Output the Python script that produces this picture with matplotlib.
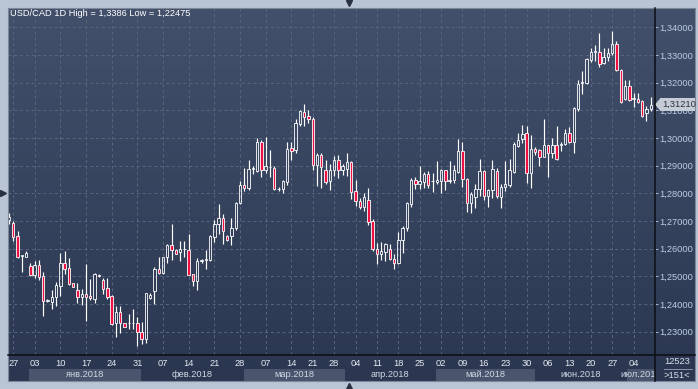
import numpy as np
import matplotlib
matplotlib.use('Agg')
import matplotlib.pyplot as plt
from matplotlib.colors import LinearSegmentedColormap
from matplotlib.lines import Line2D
from matplotlib.patches import Rectangle, Polygon

plt.rcParams['font.family'] = ['Liberation Sans', 'DejaVu Sans']

# daily USD/CAD candles
opens = [1.2705, 1.2694, 1.2646, 1.2574, 1.2571, 1.2537, 1.2504, 1.2540, 1.2501, 1.2410,
         1.2408, 1.2424, 1.2465, 1.2547, 1.2530, 1.2475, 1.2451, 1.2424, 1.2436, 1.2430,
         1.2419, 1.2505, 1.2487, 1.2458, 1.2430, 1.2330, 1.2370, 1.2330, 1.2333, 1.2331,
         1.2330, 1.2300, 1.2272, 1.2423, 1.2448, 1.2527, 1.2513, 1.2570, 1.2614, 1.2596,
         1.2588, 1.2600, 1.2596, 1.2507, 1.2483, 1.2556, 1.2558, 1.2558, 1.2642, 1.2690,
         1.2712, 1.2645, 1.2645, 1.2675, 1.2765, 1.2831, 1.2820, 1.2889, 1.2880, 1.2986,
         1.2883, 1.2896, 1.2893, 1.2816, 1.2816, 1.2841, 1.2965, 1.2955, 1.3052, 1.3094,
         1.3078, 1.3070, 1.2901, 1.2940, 1.2883, 1.2845, 1.2883, 1.2922, 1.2883, 1.2889,
         1.2913, 1.2807, 1.2771, 1.2751, 1.2775, 1.2699, 1.2600, 1.2580, 1.2588, 1.2600,
         1.2564, 1.2548, 1.2630, 1.2675, 1.2763, 1.2849, 1.2835, 1.2841, 1.2871, 1.2844,
         1.2841, 1.2845, 1.2883, 1.2846, 1.2849, 1.2877, 1.2952, 1.2853, 1.2766, 1.2787,
         1.2814, 1.2880, 1.2789, 1.2812, 1.2881, 1.2788, 1.2822, 1.2830, 1.2878, 1.2971,
         1.2995, 1.3017, 1.2875, 1.2959, 1.2957, 1.2933, 1.2974, 1.2945, 1.2974, 1.2976,
         1.2978, 1.3017, 1.2987, 1.3104, 1.3200, 1.3200, 1.3282, 1.3310, 1.3312, 1.3270,
         1.3294, 1.3306, 1.3340, 1.3246, 1.3140, 1.3188, 1.3141, 1.3142, 1.3134, 1.3092,
         1.3104]
highs = [1.2730, 1.2699, 1.2664, 1.2578, 1.2592, 1.2547, 1.2555, 1.2559, 1.2516, 1.2417,
         1.2451, 1.2481, 1.2586, 1.2593, 1.2565, 1.2477, 1.2477, 1.2453, 1.2543, 1.2490,
         1.2513, 1.2507, 1.2495, 1.2494, 1.2432, 1.2393, 1.2393, 1.2333, 1.2364, 1.2381,
         1.2352, 1.2336, 1.2441, 1.2441, 1.2533, 1.2569, 1.2571, 1.2616, 1.2690, 1.2600,
         1.2627, 1.2627, 1.2652, 1.2510, 1.2567, 1.2561, 1.2594, 1.2648, 1.2702, 1.2760,
         1.2727, 1.2648, 1.2712, 1.2769, 1.2845, 1.2893, 1.2919, 1.2898, 1.3001, 1.2994,
         1.3004, 1.2958, 1.2898, 1.2823, 1.2849, 1.2986, 1.2986, 1.3070, 1.3102, 1.3124,
         1.3100, 1.3076, 1.2946, 1.2946, 1.2922, 1.2905, 1.2934, 1.2940, 1.2905, 1.2946,
         1.2917, 1.2847, 1.2784, 1.2801, 1.2820, 1.2708, 1.2620, 1.2624, 1.2620, 1.2616,
         1.2580, 1.2660, 1.2681, 1.2769, 1.2857, 1.2859, 1.2898, 1.2877, 1.2879, 1.2874,
         1.2917, 1.2889, 1.2886, 1.2916, 1.2901, 1.2998, 1.2986, 1.2857, 1.2805, 1.2833,
         1.2925, 1.2883, 1.2817, 1.2920, 1.2890, 1.2833, 1.2918, 1.2923, 1.2987, 1.3017,
         1.3047, 1.3043, 1.3011, 1.2966, 1.2960, 1.3069, 1.2975, 1.2999, 1.3043, 1.2987,
         1.3031, 1.3039, 1.3111, 1.3210, 1.3242, 1.3290, 1.3324, 1.3337, 1.3380, 1.3327,
         1.3324, 1.3386, 1.3352, 1.3248, 1.3210, 1.3210, 1.3164, 1.3161, 1.3137, 1.3116,
         1.3147]
lows = [1.2690, 1.2629, 1.2567, 1.2517, 1.2571, 1.2501, 1.2495, 1.2487, 1.2358, 1.2409,
        1.2381, 1.2393, 1.2429, 1.2508, 1.2469, 1.2460, 1.2402, 1.2396, 1.2340, 1.2414,
        1.2402, 1.2499, 1.2436, 1.2419, 1.2324, 1.2282, 1.2296, 1.2316, 1.2310, 1.2310,
        1.22475, 1.2256, 1.2260, 1.2418, 1.2399, 1.2508, 1.2508, 1.2547, 1.2558, 1.2580,
        1.2555, 1.2570, 1.2504, 1.2465, 1.2449, 1.2549, 1.2528, 1.2554, 1.2624, 1.2654,
        1.2618, 1.2628, 1.2614, 1.2669, 1.2763, 1.2808, 1.2811, 1.2869, 1.2877, 1.2859,
        1.2873, 1.2859, 1.2811, 1.2808, 1.2801, 1.2829, 1.2919, 1.2946, 1.3042, 1.3042,
        1.3054, 1.2886, 1.2825, 1.2820, 1.2833, 1.2811, 1.2861, 1.2857, 1.2865, 1.2861,
        1.2781, 1.2753, 1.2742, 1.2736, 1.2684, 1.2592, 1.2543, 1.2558, 1.2555, 1.2558,
        1.2528, 1.2546, 1.2584, 1.2664, 1.2751, 1.2817, 1.2817, 1.2820, 1.2820, 1.2805,
        1.2835, 1.2801, 1.2813, 1.2837, 1.2837, 1.2874, 1.2823, 1.2733, 1.2729, 1.2748,
        1.2789, 1.2775, 1.2750, 1.2782, 1.2782, 1.2746, 1.2810, 1.2822, 1.2875, 1.2969,
        1.2981, 1.2836, 1.2818, 1.2939, 1.2900, 1.2930, 1.2858, 1.2927, 1.2920, 1.2953,
        1.2975, 1.2983, 1.2947, 1.3099, 1.3159, 1.3195, 1.3276, 1.3280, 1.3258, 1.3267,
        1.3278, 1.3300, 1.3243, 1.3128, 1.3137, 1.3135, 1.3111, 1.3125, 1.3075, 1.3063,
        1.3099]
closes = [1.2715, 1.2643, 1.2571, 1.2576, 1.2584, 1.2505, 1.2540, 1.2496, 1.2412, 1.2414,
          1.2424, 1.2469, 1.2547, 1.2528, 1.2472, 1.2463, 1.2424, 1.2436, 1.2427, 1.2420,
          1.2510, 1.2500, 1.2453, 1.2427, 1.2328, 1.2370, 1.2330, 1.2318, 1.2331, 1.2333,
          1.2300, 1.2272, 1.2441, 1.2433, 1.2527, 1.2511, 1.2569, 1.2612, 1.2596, 1.2582,
          1.2600, 1.2598, 1.2506, 1.2483, 1.2555, 1.2558, 1.2562, 1.2645, 1.2690, 1.2712,
          1.2663, 1.2633, 1.2676, 1.2765, 1.2831, 1.2820, 1.2889, 1.2891, 1.2986, 1.2883,
          1.2898, 1.2895, 1.2814, 1.2815, 1.2843, 1.2961, 1.2953, 1.3054, 1.3098, 1.3076,
          1.3067, 1.2901, 1.2940, 1.2895, 1.2841, 1.2886, 1.2922, 1.2883, 1.2898, 1.2913,
          1.2805, 1.2771, 1.2751, 1.2787, 1.2696, 1.2600, 1.2580, 1.2590, 1.2616, 1.2564,
          1.2548, 1.2630, 1.2675, 1.2766, 1.2849, 1.2835, 1.2843, 1.2871, 1.2829, 1.2846,
          1.2847, 1.2883, 1.2845, 1.2847, 1.2883, 1.2952, 1.2853, 1.2766, 1.2796, 1.2814,
          1.2880, 1.2789, 1.2811, 1.2887, 1.2790, 1.2824, 1.2834, 1.2884, 1.2978, 1.2993,
          1.3014, 1.2872, 1.2959, 1.2951, 1.2933, 1.2974, 1.2945, 1.2974, 1.2923, 1.2978,
          1.3017, 1.2987, 1.3107, 1.3195, 1.3204, 1.3284, 1.3310, 1.3313, 1.3267, 1.3294,
          1.3306, 1.3340, 1.3246, 1.3131, 1.3188, 1.3137, 1.3143, 1.3131, 1.3080, 1.3104,
          1.3121]

day_ticks = [1, 6, 12, 18, 24, 30, 36, 42, 48, 54, 60, 66, 71, 76, 81, 86, 91, 96,
             101, 106, 111, 116, 121, 126, 131, 136, 141, 146]
day_labels = ['27', '03', '10', '17', '24', '31', '07', '14', '21', '28', '07', '14', '21', '28',
              '04', '11', '18', '25', '02', '09', '16', '23', '30', '06', '13', '20', '27', '04']
month_starts = [4.6, 30.8, 54.9, 78.5, 99.8, 122.9, 144.4]
month_labels = ['янв.2018', 'фев.2018', 'мар.2018', 'апр.2018', 'май.2018', 'июн.2018', 'июл.2018']
price_levels = [1.23, 1.24, 1.25, 1.26, 1.27, 1.28, 1.29, 1.30, 1.31, 1.32, 1.33, 1.34]
last_price = 1.3121
title = 'USD/CAD 1D High = 1,3386 Low = 1,22475'

W, H = 698, 389


def box(x0, y0, x1, y1):
    # pixel box (top-left origin) -> figure fraction rect
    return [x0 / W, 1 - y1 / H, (x1 - x0) / W, (y1 - y0) / H]


fig = plt.figure(figsize=(W / 100, H / 100), dpi=100, facecolor='#b9c5d5')

# dark gradient background for plot + axis panels
bg = fig.add_axes(box(8, 8, 695, 381))
cmap = LinearSegmentedColormap.from_list('bg', ['#2b3751', '#42506b'])
bg.imshow(np.linspace(0, 1, 256).reshape(-1, 1)[::-1], aspect='auto', cmap=cmap,
          extent=[0, 1, 0, 1])
bg.axis('off')

ax = fig.add_axes(box(8, 8, 655, 355))
ax.patch.set_alpha(0)
xmin, xmax = -0.23, 151.0
ax.set_xlim(xmin, xmax)
ax.set_ylim(1.22158, 1.34699)
for s in ax.spines.values():
    s.set_visible(False)

x = np.arange(len(opens))
o = np.array(opens)
c = np.array(closes)
top = np.maximum(o, c)
bot = np.minimum(o, c)
ax.vlines(x, top, highs, color='white', lw=0.85, zorder=3)
ax.vlines(x, lows, bot, color='white', lw=0.85, zorder=3)
bars = ax.bar(x, np.maximum(top - bot, 0.00004), bottom=bot, width=0.56,
              edgecolor='white', linewidth=0.6, zorder=4)
for b, oo, cc in zip(bars, o, c):
    b.set_facecolor('#ee1141' if cc < oo else 'none')

ax.grid(True, color='#58667f', lw=0.7, ls=(0, (3, 3)), zorder=1)
ax.set_axisbelow(True)

ax.yaxis.tick_right()
ax.set_yticks(price_levels, [f'{p:.5f}'.replace('.', ',') for p in price_levels])
ax.tick_params(axis='y', length=2, width=0.7, color='#a9b8cc', pad=0.8,
               labelsize=6.7, labelcolor='#bccde2')
ax.set_xticks(day_ticks, day_labels)
ax.tick_params(axis='x', length=0, pad=3.0, labelsize=6.7, labelcolor='#e2e8ef')

# month strip under the day labels
bx = fig.add_axes(box(8, 355, 655, 381))
bx.set_xlim(xmin, xmax)
bx.set_ylim(0, 1)
bx.axis('off')
bounds = month_starts + [xmax + 5]
for k, lab in enumerate(month_labels):
    if k % 2 == 0:
        bx.axvspan(bounds[k], bounds[k + 1], ymin=0, ymax=0.48, color='#48556d', lw=0)
    bx.text((bounds[k] + min(bounds[k + 1], 151.0)) / 2, 0.24, lab, ha='center', va='center',
            fontsize=6.7, color='#cfd8e3', clip_on=True)

fig.text(10 / W, 1 - 14 / H, title, ha='left', va='center', fontsize=6.7, color='white')

# frame lines
fig.add_artist(Line2D([655 / W, 655 / W], [1 - 8 / H, 1 - 381 / H], color='#0b0e14', lw=1.1))
fig.add_artist(Line2D([8 / W, 695 / W], [1 - 355 / H, 1 - 355 / H], color='#0b0e14', lw=1.1))
fig.add_artist(Rectangle((8 / W, 1 - 381 / H), 687 / W, 373 / H, fill=False,
                         ec='#7c889a', lw=0.8))

# right-bottom counter box
fig.text(677 / W, 1 - 362 / H, '12523', ha='center', va='center', fontsize=6.7, color='#d6dee8')
fig.add_artist(Line2D([664 / W, 692 / W], [1 - 369 / H, 1 - 369 / H], color='#8996aa', lw=0.7))
fig.text(677 / W, 1 - 375 / H, '>151<', ha='center', va='center', fontsize=6.7, color='#d6dee8')

# current price marker (it sits over the 1,31000 label, as in the original)
py = 331.7 - (last_price - 1.23) * 2767
fig.add_artist(Rectangle((660 / W, 1 - (py + 6.5) / H), 35 / W, 13 / H, fc='#c6ccd5', ec='none'))
fig.add_artist(Polygon([[655 / W, 1 - py / H], [660.5 / W, 1 - (py - 6.5) / H],
                        [660.5 / W, 1 - (py + 6.5) / H]], closed=True, fc='#c6ccd5', ec='none'))
fig.text(662 / W, 1 - py / H, f'{last_price:.5f}'.replace('.', ','), ha='left', va='center',
         fontsize=6.7, color='#2b303a')

# little scroll arrows on the frame
for mx, my, mk in [(349, 3, 'v'), (3, 193, '>'), (349, 386, '^')]:
    fig.add_artist(Line2D([mx / W], [1 - my / H], marker=mk, ms=4.5, color='#283041', lw=0))

fig.savefig('out.png', dpi=100, facecolor=fig.get_facecolor())
